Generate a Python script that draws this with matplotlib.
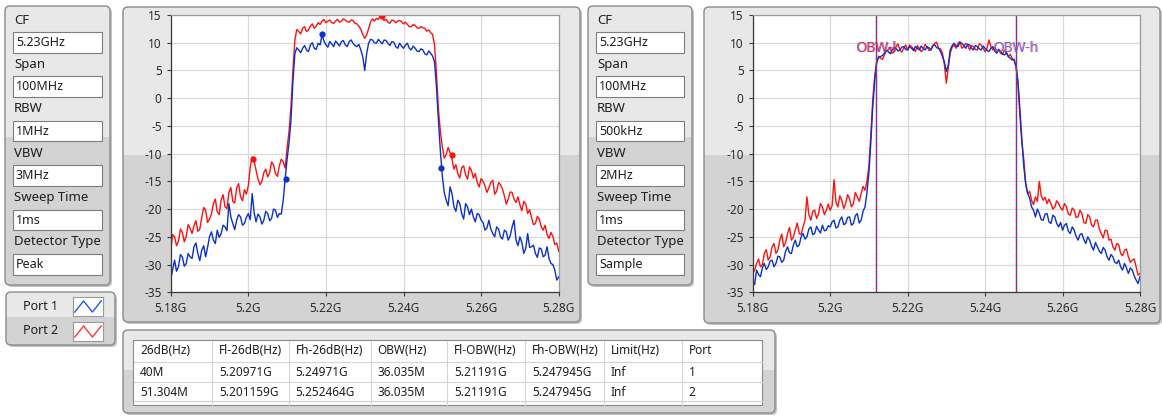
import numpy as np
import matplotlib
matplotlib.use('Agg')
import matplotlib.pyplot as plt
from matplotlib.patches import FancyBboxPatch, Rectangle

plt.rcParams['font.family'] = ['Noto Sans', 'DejaVu Sans']

# ---- data -------------------------------------------------------------
param_labels = ['CF', 'Span', 'RBW', 'VBW', 'Sweep Time', 'Detector Type']
params_left = ['5.23GHz', '100MHz', '1MHz', '3MHz', '1ms', 'Peak']
params_right = ['5.23GHz', '100MHz', '500kHz', '2MHz', '1ms', 'Sample']

x_ticks = [5.18, 5.2, 5.22, 5.24, 5.26, 5.28]
x_ticklabels = ['5.18G', '5.2G', '5.22G', '5.24G', '5.26G', '5.28G']
y_ticks = [15, 10, 5, 0, -5, -10, -15, -20, -25, -30, -35]

# sweep points, 0.5 MHz apart, 5.18 .. 5.28 GHz
freq = np.linspace(5.18, 5.28, 201)

# left graph (RBW 1 MHz, peak detector), dBm
port2_a = [
    -27.4, -24.6, -25.0, -26.6, -25.8, -23.6, -24.2, -25.9, -24.9, -22.8,
    -23.5, -24.4, -23.0, -22.1, -24.0, -23.6, -21.5, -19.7, -20.2, -22.4,
    -21.8, -20.9, -19.0, -18.2, -20.5, -21.0, -18.3, -17.4, -19.6, -19.9,
    -17.0, -16.1, -18.6, -18.9, -16.2, -15.4, -17.8, -18.5, -16.5, -17.3,
    -15.8, -12.4, -10.6, -11.4, -13.0, -14.6, -15.6, -15.0, -13.4, -12.8,
    -14.2, -13.4, -11.5, -12.0, -13.6, -14.1, -12.2, -11.0, -11.5, -12.6,
    -9.0, -6.0, -1.5, 5.0, 10.5, 12.4, 12.0, 11.6, 12.6, 12.9,
    12.0, 12.3, 13.0, 13.4, 12.6, 13.0, 13.6, 13.3, 13.9, 14.2,
    13.6, 13.9, 14.1, 13.6, 13.5, 13.9, 14.2, 13.7, 13.9, 14.3,
    14.1, 13.8, 13.7, 14.1, 14.0, 13.5, 13.4, 13.0, 12.4, 11.5,
    10.8, 11.4, 12.5, 13.7, 14.3, 13.9, 14.4, 14.2, 14.9, 14.8,
    14.0, 14.2, 13.7, 13.5, 14.1, 14.0, 13.6, 13.9, 14.0, 13.8,
    13.4, 13.7, 13.3, 12.9, 12.9, 13.3, 13.1, 12.7, 12.6, 12.9,
    12.7, 12.6, 12.1, 12.3, 11.8, 11.5, 9.5, 4.5, -2.0, -6.0,
    -8.7, -10.8, -10.2, -8.9, -9.8, -11.0, -12.8, -12.0, -13.6, -14.4,
    -12.5, -12.2, -13.8, -14.6, -12.4, -13.0, -14.4, -13.6, -15.2, -16.0,
    -14.5, -15.0, -15.8, -17.0, -16.2, -15.2, -14.8, -17.3, -16.8, -15.2,
    -15.6, -16.4, -17.6, -19.1, -18.2, -16.9, -17.0, -18.2, -18.8, -17.8,
    -19.2, -20.3, -18.6, -19.1, -20.8, -20.1, -21.5, -22.8, -22.6, -21.3,
    -21.8, -23.2, -23.8, -22.9, -24.6, -25.3, -24.2, -24.9, -26.4, -26.1,
    -27.6]
port1_a = [
    -32.8, -30.9, -29.2, -31.2, -30.4, -28.2, -28.6, -30.3, -29.8, -28.0,
    -28.6, -28.9, -26.8, -26.1, -28.0, -29.3, -27.4, -26.6, -28.6, -26.9,
    -25.0, -24.1, -25.6, -26.2, -23.8, -25.1, -24.4, -22.9, -23.2, -23.9,
    -19.0, -21.4, -22.6, -23.7, -22.0, -21.0, -21.4, -22.9, -22.6, -21.5,
    -20.8, -21.9, -17.2, -20.6, -22.3, -20.9, -21.4, -22.7, -22.0, -20.4,
    -20.8, -22.1, -21.7, -20.0, -20.2, -21.5, -20.8, -20.9, -18.4, -14.5,
    -11.0, -8.0, -4.0, 3.0, 8.0, 9.1, 8.7, 8.2, 9.0, 9.5,
    8.7, 8.4, 9.6, 10.0, 9.0, 8.8, 9.9, 9.6, 11.4, 10.3,
    9.6, 9.2, 10.2, 9.8, 9.3, 10.3, 9.9, 9.4, 10.2, 10.4,
    9.6, 9.3, 10.2, 10.5, 9.9, 9.5, 9.3, 9.7, 8.7, 7.5,
    5.0, 8.0, 9.9, 10.6, 10.5, 10.0, 9.9, 10.6, 10.2, 9.8,
    10.5, 10.4, 9.9, 9.5, 10.2, 10.1, 9.3, 9.0, 9.9, 9.4,
    9.0, 9.6, 9.9, 9.0, 8.7, 9.4, 9.0, 8.5, 8.4, 8.9,
    8.7, 8.0, 7.8, 8.5, 8.1, 7.6, 6.5, 2.0, -4.0, -9.5,
    -14.0, -17.0, -18.4, -19.4, -16.0, -17.2, -19.6, -20.4, -18.4, -19.0,
    -20.8, -21.8, -19.0, -19.6, -21.0, -20.0, -21.4, -22.3, -20.8, -21.0,
    -22.0, -22.4, -23.8, -23.4, -22.0, -23.6, -24.4, -25.0, -23.2, -23.6,
    -25.0, -25.4, -23.8, -24.1, -25.6, -24.8, -23.2, -22.0, -25.6, -26.6,
    -25.0, -26.0, -28.0, -27.1, -24.4, -26.9, -26.8, -26.5, -28.0, -28.7,
    -27.0, -27.2, -28.6, -28.3, -26.8, -28.9, -29.8, -30.0, -31.0, -32.8,
    -32.2]

# right graph (RBW 500 kHz, sample detector), dBm
port2_b = [
    -31.6, -31.0, -29.8, -29.0, -30.4, -30.0, -28.0, -27.3, -29.2, -28.6,
    -26.8, -26.2, -28.0, -27.4, -25.6, -24.5, -26.8, -26.0, -24.4, -23.3,
    -25.6, -25.0, -23.8, -22.5, -24.4, -24.6, -23.2, -22.0, -17.8, -21.0,
    -22.0, -20.4, -20.2, -21.7, -20.8, -19.0, -19.6, -21.0, -20.2, -19.1,
    -20.2, -19.4, -14.7, -18.8, -19.6, -17.6, -18.4, -19.9, -19.0, -17.4,
    -18.1, -19.6, -19.0, -17.0, -17.8, -18.6, -17.2, -15.9, -16.6, -15.0,
    -12.3, -6.5, -0.3, 4.0, 6.3, 7.6, 7.2, 7.0, 7.8, 8.6,
    8.7, 9.2, 8.1, 8.3, 9.3, 9.8, 8.7, 8.3, 9.0, 9.6,
    8.7, 9.6, 9.3, 8.9, 8.4, 9.5, 9.0, 8.4, 8.7, 9.7,
    9.3, 8.6, 8.7, 9.5, 9.9, 10.1, 9.0, 8.9, 8.1, 6.0,
    2.7, 5.5, 8.1, 9.2, 9.6, 9.0, 9.9, 10.2, 9.0, 9.3,
    9.9, 9.6, 8.7, 9.5, 9.3, 8.8, 8.7, 9.8, 9.6, 9.0,
    8.4, 9.0, 10.5, 9.3, 8.7, 9.1, 8.4, 8.8, 8.1, 7.9,
    8.7, 8.2, 7.5, 7.9, 7.2, 6.8, 5.7, 2.5, -3.3, -8.0,
    -11.1, -15.5, -17.2, -16.8, -18.4, -19.2, -17.8, -18.6, -15.0, -17.6,
    -18.4, -17.9, -19.0, -18.2, -19.0, -20.0, -19.6, -18.5, -19.0, -19.8,
    -20.2, -19.0, -19.6, -20.9, -21.1, -19.8, -20.2, -21.5, -21.4, -20.2,
    -20.8, -22.4, -22.6, -21.0, -21.4, -22.9, -23.2, -22.0, -22.0, -23.6,
    -24.4, -25.2, -23.8, -23.9, -25.6, -25.4, -26.8, -27.4, -26.2, -26.4,
    -28.0, -28.4, -27.4, -27.2, -28.6, -29.6, -29.2, -29.0, -30.4, -31.9,
    -31.6]
port1_b = [
    -32.8, -33.6, -31.0, -31.8, -32.2, -30.6, -29.8, -30.9, -30.4, -29.4,
    -29.2, -30.4, -29.8, -28.5, -28.6, -29.6, -29.2, -27.6, -26.8, -27.9,
    -28.0, -26.5, -25.6, -26.8, -26.5, -25.0, -24.4, -25.4, -25.0, -23.6,
    -23.2, -24.6, -24.4, -23.1, -23.8, -24.3, -22.9, -23.9, -23.8, -23.0,
    -23.2, -22.3, -22.0, -23.4, -23.2, -22.0, -21.4, -22.8, -22.6, -21.5,
    -21.4, -22.9, -22.6, -21.2, -20.8, -22.5, -22.0, -20.4, -19.6, -17.0,
    -13.5, -8.0, -1.5, 3.0, 6.6, 7.3, 7.5, 7.7, 8.1, 8.6,
    8.4, 8.0, 8.7, 9.1, 9.0, 8.5, 8.7, 9.2, 9.3, 8.8,
    8.7, 9.3, 9.0, 8.6, 9.3, 9.0, 8.7, 9.4, 9.0, 8.7,
    9.3, 9.1, 8.7, 9.4, 9.6, 9.1, 9.0, 8.4, 7.5, 6.5,
    4.8, 6.0, 8.7, 9.5, 9.9, 9.4, 9.3, 10.0, 9.9, 9.5,
    9.0, 9.7, 9.6, 9.0, 8.7, 9.5, 9.3, 8.9, 8.7, 9.4,
    9.0, 8.6, 8.4, 9.0, 9.3, 8.5, 8.1, 8.8, 8.4, 8.0,
    7.8, 8.2, 7.5, 7.2, 6.9, 7.0, 5.7, 3.0, -2.1, -7.5,
    -12.3, -15.5, -17.2, -18.0, -19.6, -20.2, -21.4, -20.0, -20.8, -21.9,
    -22.0, -20.9, -20.8, -22.3, -22.6, -21.1, -21.4, -22.6, -23.2, -22.4,
    -23.8, -22.9, -22.6, -24.0, -24.4, -23.2, -23.8, -24.9, -25.6, -24.6,
    -24.4, -25.5, -26.2, -25.0, -25.6, -26.7, -27.4, -26.0, -26.8, -27.6,
    -28.0, -26.9, -27.4, -28.6, -29.2, -28.2, -28.6, -29.6, -29.8, -29.2,
    -30.4, -31.0, -29.8, -30.6, -31.6, -30.6, -31.0, -32.0, -32.8, -33.4,
    -32.2]

# markers on the left graph: peak, -26 dB low, -26 dB high
port1_mark_f = [5.2190, 5.20971, 5.24971]
port1_mark_db = [11.5, -14.5, -12.5]
port2_mark_f = [5.2345, 5.201159, 5.252464]
port2_mark_db = [14.9, -11.0, -10.2]

# occupied bandwidth cursors on the right graph (GHz)
obw_low = 5.21191
obw_high = 5.247945
obw_label_db = 9.0

legend_names = ['Port 1', 'Port 2']
legend_glyph = [0, 1, 0, 1]

table_header = ['26dB(Hz)', 'Fl-26dB(Hz)', 'Fh-26dB(Hz)', 'OBW(Hz)',
                'Fl-OBW(Hz)', 'Fh-OBW(Hz)', 'Limit(Hz)', 'Port']
table_row1 = ['40M', '5.20971G', '5.24971G', '36.035M', '5.21191G', '5.247945G', 'Inf', '1']
table_row2 = ['51.304M', '5.201159G', '5.252464G', '36.035M', '5.21191G', '5.247945G', 'Inf', '2']

RED = '#ff1010'
BLUE = '#0b30cc'
TXT = '#1e1e1e'

# ---- figure / background (pixel coordinates, y down) -------------------
W, H = 1162, 416
fig = plt.figure(figsize=(W / 100, H / 100), dpi=100)
fig.patch.set_facecolor('white')
bg = fig.add_axes([0, 0, 1, 1], zorder=0)
bg.set_xlim(0, W)
bg.set_ylim(H, 0)
bg.axis('off')


def panel(x0, y0, x1, y1, split):
    w, h = x1 - x0, y1 - y0
    style = 'round,pad=0,rounding_size=5'
    bg.add_patch(FancyBboxPatch((x0 + 2, y0 + 2), w, h, boxstyle=style,
                                fc='#c2c2c2', ec='none'))
    body = FancyBboxPatch((x0, y0), w, h, boxstyle=style, fc='#d3d3d3', ec='none')
    bg.add_patch(body)
    top = Rectangle((x0, y0), w, split - y0, fc='#e8e8e8', ec='none')
    bg.add_patch(top)
    top.set_clip_path(body)
    bg.add_patch(FancyBboxPatch((x0, y0), w, h, boxstyle=style, fc='none',
                                ec='#8a8a8a', lw=1.0))


def param_panel(x0, x1, values):
    panel(x0, 6, x1, 285, 137)
    for i, (lab, val) in enumerate(zip(param_labels, values)):
        bg.text(x0 + 9, 20 + i * 44.4, lab, fontsize=9.5, va='center', color=TXT)
        by = 32 + i * 44.4
        bg.add_patch(Rectangle((x0 + 8, by), x1 - x0 - 16, 20.5, fc='white',
                               ec='#7e7e7e', lw=0.8))
        bg.text(x0 + 11, by + 10.5, val, fontsize=9, va='center', color=TXT)


param_panel(5, 110, params_left)
param_panel(588, 692, params_right)
panel(123, 7, 580, 322, 155)
panel(704, 7, 1160, 323, 155)
panel(6, 292, 115, 345, 317)
panel(123, 330, 775, 413, 370)

# legend
for i, (name, col) in enumerate(zip(legend_names, ['#2a55e0', '#ff3838'])):
    bg.text(23, 306 + i * 24.5, name, fontsize=9, va='center', color=TXT)
    sw = fig.add_axes([73 / W, 1 - (316 + i * 25) / H, 30 / W, 19 / H], zorder=2)
    sw.plot(range(len(legend_glyph)), legend_glyph, color=col, lw=1.0)
    sw.set_xlim(-0.2, 3.2)
    sw.set_ylim(-0.35, 1.35)
    sw.set_xticks([])
    sw.set_yticks([])
    for s in sw.spines.values():
        s.set_color('#9a9a9a')
        s.set_linewidth(0.8)

# table
col_edges = [133, 212, 288.5, 370.5, 447, 525, 603.5, 681.5, 762]
bg.add_patch(Rectangle((133, 340), 629, 65, fc='white', ec='#8a8a8a', lw=0.8))
for x in col_edges[1:-1]:
    bg.plot([x, x], [340.5, 404.5], color='#d4d4d4', lw=0.8)
for y in [362, 382, 401]:
    bg.plot([133.5, 761.5], [y, y], color='#d4d4d4', lw=0.8)
for ry, row in zip([350.5, 373, 392.5], [table_header, table_row1, table_row2]):
    for x, cell in zip(col_edges, row):
        bg.text(x + 7, ry, cell, fontsize=8.5, va='center', color=TXT)


# ---- graphs -----------------------------------------------------------
def graph(x0, x1):
    ax = fig.add_axes([x0 / W, 1 - 292.3 / H, (x1 - x0) / W, (292.3 - 15) / H], zorder=1)
    ax.set_facecolor('white')
    ax.set_xlim(5.18, 5.28)
    ax.set_ylim(-35, 15)
    ax.set_xticks(x_ticks)
    ax.set_xticklabels(x_ticklabels)
    ax.set_yticks(y_ticks)
    ax.set_yticklabels([str(v) for v in y_ticks])
    ax.grid(True, color='#d9d9d9', lw=0.9)
    ax.set_axisbelow(True)
    ax.tick_params(direction='out', length=3, width=0.8, color='#3a3a3a',
                   labelsize=8.5, labelcolor='#2a2a2a')
    ax.tick_params(axis='y', pad=3.5)
    ax.tick_params(axis='x', pad=4)
    for side in ['top', 'right']:
        ax.spines[side].set_color('#9a9a9a')
    for side in ['left', 'bottom']:
        ax.spines[side].set_color('#3a3a3a')
    for s in ax.spines.values():
        s.set_linewidth(0.9)
    return ax


ax1 = graph(170.7, 558.7)
ax1.plot(freq, port2_a, color=RED, lw=1.0)
ax1.plot(freq, port1_a, color=BLUE, lw=1.0)
ax1.plot(port1_mark_f, port1_mark_db, 'o', color=BLUE, ms=4.5, mec='none')
ax1.plot(port2_mark_f, port2_mark_db, 'o', color=RED, ms=4.5, mec='none')

ax2 = graph(752.7, 1140)
ax2.plot(freq, port2_b, color=RED, lw=1.0)
ax2.plot(freq, port1_b, color=BLUE, lw=1.0)
for f in [obw_low, obw_high]:
    ax2.axvline(f, color=RED, lw=1.0, ls=(0, (3, 2)))
    ax2.axvline(f, color='#3050e0', lw=1.0, ls=(2.5, (3, 2)))
ax2.text(obw_low, obw_label_db, 'OBW-l', color='#5a5ae0', fontsize=10,
         ha='center', va='center', alpha=0.8)
ax2.text(obw_low - 0.0003, obw_label_db, 'OBW-l', color=RED, fontsize=10,
         ha='center', va='center', alpha=0.75)
ax2.text(obw_high - 0.0003, obw_label_db, 'OBW-h', color='#ff5050', fontsize=10,
         ha='center', va='center', alpha=0.6)
ax2.text(obw_high, obw_label_db, 'OBW-h', color='#5a5ae0', fontsize=10,
         ha='center', va='center', alpha=0.85)

fig.savefig('out.png', dpi=100, facecolor='white')
